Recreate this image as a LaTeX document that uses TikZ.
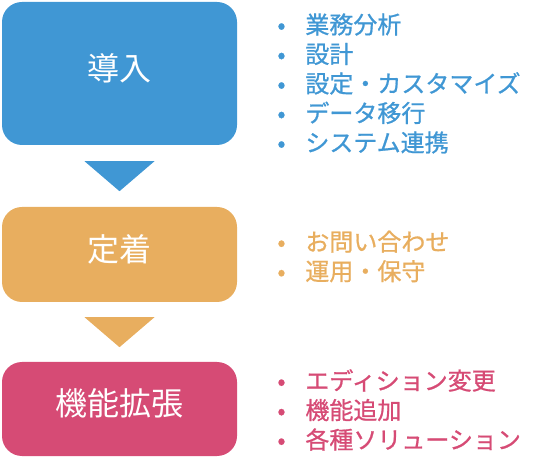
\documentclass[tikz,border=0pt]{standalone}
\usepackage{fontspec}
\setmainfont{Noto Sans CJK JP}
\newfontfamily\listfont{Noto Sans CJK JP}[FakeBold=0.8]
\usepackage{xcolor}
\usepackage{tikz}
\usetikzlibrary{positioning,calc}

\definecolor{dounyu}{RGB}{64,151,212}
\definecolor{teichaku}{RGB}{232,174,95}
\definecolor{kakucho}{RGB}{214,75,117}
\newcommand{\itm}{\makebox[36pt][l]{\hspace{8pt}\textbullet}}

\begin{document}
\begin{tikzpicture}[
  x=1pt,y=1pt,
  node distance=32pt,
  stage/.style={rounded corners=20pt,minimum width=235pt,text=white,text depth=13pt,font=\fontsize{32}{38}\selectfont},
  items/.style={align=left,inner sep=0pt,font=\listfont\fontsize{24}{29.5}\selectfont}]
  \useasboundingbox (0,0) rectangle (545,468);
  \node (s1) [stage,fill=dounyu,minimum height=143pt] at (119.5,394.5) {導入};
  \node (s2) [stage,fill=teichaku,minimum height=95pt] at (119.5,213.5) {定着};
  \node (s3) [stage,fill=kakucho,minimum height=94pt] at (119.5,59) {機能拡張};
  % lists
  \node (l1) [items,text=dounyu,right=of s1,yshift=-10pt] {\itm 業務分析\\\itm 設計\\\itm 設定・カスタマイズ\\\itm データ移行\\\itm システム連携};
  \node (l2) [items,text=teichaku,right=of s2,yshift=-2pt] {\itm お問い合わせ\\\itm 運用・保守};
  \node (l3) [items,text=kakucho,right=of s3,yshift=-1pt] {\itm エディション変更\\\itm 機能追加\\\itm 各種ソリューション};
  % down marks
  \fill[dounyu] ($(s1.south)+(-35,-16)$) -- ++(70,0) -- ($(s1.south)+(0,-46)$) -- cycle;
  \fill[teichaku] ($(s2.south)+(-35,-15)$) -- ++(70,0) -- ($(s2.south)+(0,-45)$) -- cycle;
\end{tikzpicture}
\end{document}
